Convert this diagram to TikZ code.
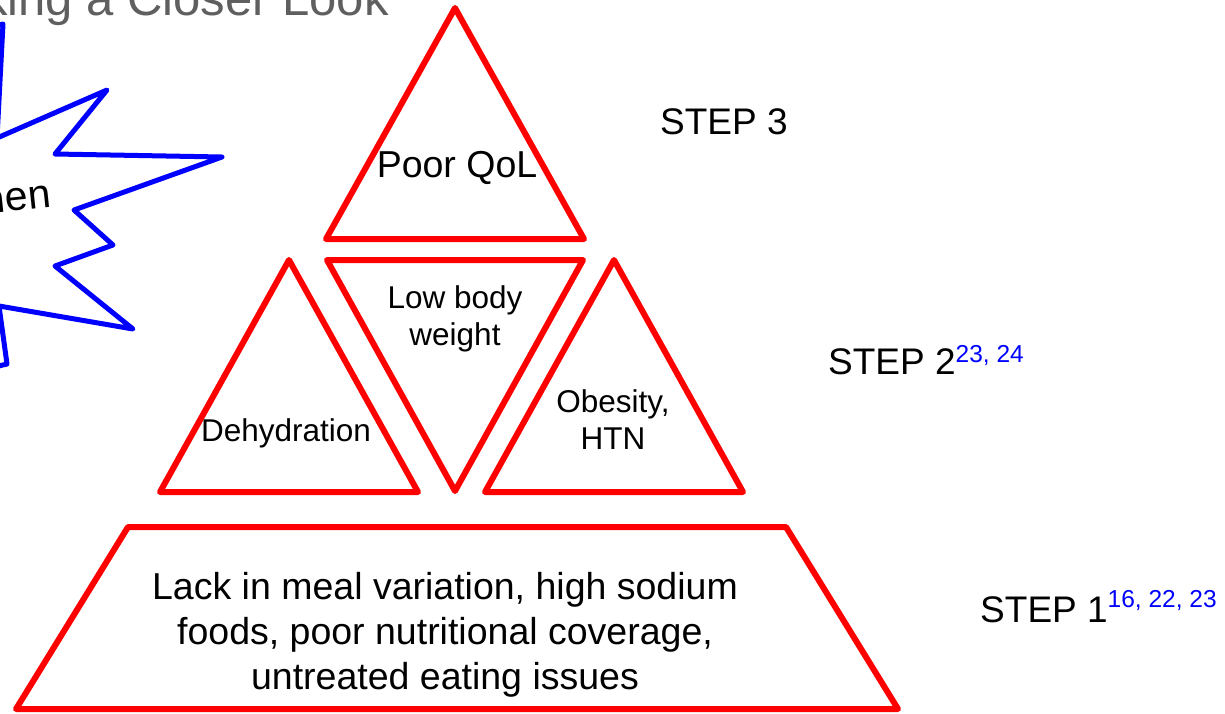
\documentclass[tikz,border=0pt]{standalone}
\usepackage{fontspec}
\setmainfont{Liberation Sans}
\definecolor{titlegray}{HTML}{5F5F5F}
\definecolor{pyrred}{HTML}{FF0000}
\definecolor{starblue}{HTML}{0000FF}
\begin{document}
\begin{tikzpicture}[x=1pt,y=-1pt,
  pyr/.style={draw=pyrred,line width=6pt,line join=round},
  star/.style={draw=starblue,line width=5pt,line join=round,line cap=round},
  big/.style={font=\fontsize{37.5}{45}\selectfont,inner sep=0pt,align=center},
  mid/.style={font=\fontsize{31.5}{37}\selectfont,inner sep=0pt,align=center},
  steplbl/.style={font=\fontsize{37}{44}\selectfont,inner sep=0pt,anchor=base west}]
\useasboundingbox (0,0) rectangle (1225,713);
\clip (0,0) rectangle (1225,713);
\fill[white] (0,0) rectangle (1225,713);
% title (cut off at the left)
\node[font=\fontsize{49}{56}\selectfont,text=titlegray,inner sep=0pt,anchor=base east] (title) at (389,15) {Taking a Closer Look};
% blue starburst (cut off at the left)
\draw[star] (-60,40) -- (3,24) -- (-3,138) -- (107,90) -- (55,154) -- (222,157) -- (74,210) -- (113,245) -- (55,266) -- (133,329) -- (-1,306) -- (7,364) -- (-60,380) -- cycle;
\node[font=\fontsize{41}{48}\selectfont,inner sep=0pt,anchor=base east,rotate=6] (starlbl) at (52,207) {Women};
% pyramid
\draw[pyr] (455,8) -- (584,239) -- (326,239) -- cycle;
\draw[pyr] (289,260) -- (418,492) -- (160,492) -- cycle;
\draw[pyr] (327,260) -- (583,260) -- (455,491) -- cycle;
\draw[pyr] (614,260) -- (743,492) -- (485,492) -- cycle;
\draw[pyr] (128,527) -- (786,527) -- (898,709) -- (16,709) -- cycle;
% texts
\node[big] (qol) at (457,168) {Poor QoL};
\node[mid] (lbw) at (455,319) {Low body\\weight};
\node[mid] (dehyd) at (286,433) {Dehydration};
\node[mid] (obes) at (613,420) {Obesity,\\HTN};
\node[big] (base) at (445,635) {Lack in meal variation, high sodium\\foods, poor nutritional coverage,\\untreated eating issues};
% step labels
\node[steplbl] (s3) at (660,134) {STEP 3};
\node[steplbl] (s2) at (828,374) {STEP 2\raisebox{12pt}{\fontsize{24.5}{28}\selectfont\color{starblue}23, 24}};
\node[steplbl] (s1) at (980,622) {STEP 1\raisebox{15pt}{\fontsize{24.5}{28}\selectfont\color{starblue}16, 22, 23}};
\end{tikzpicture}
\end{document}
